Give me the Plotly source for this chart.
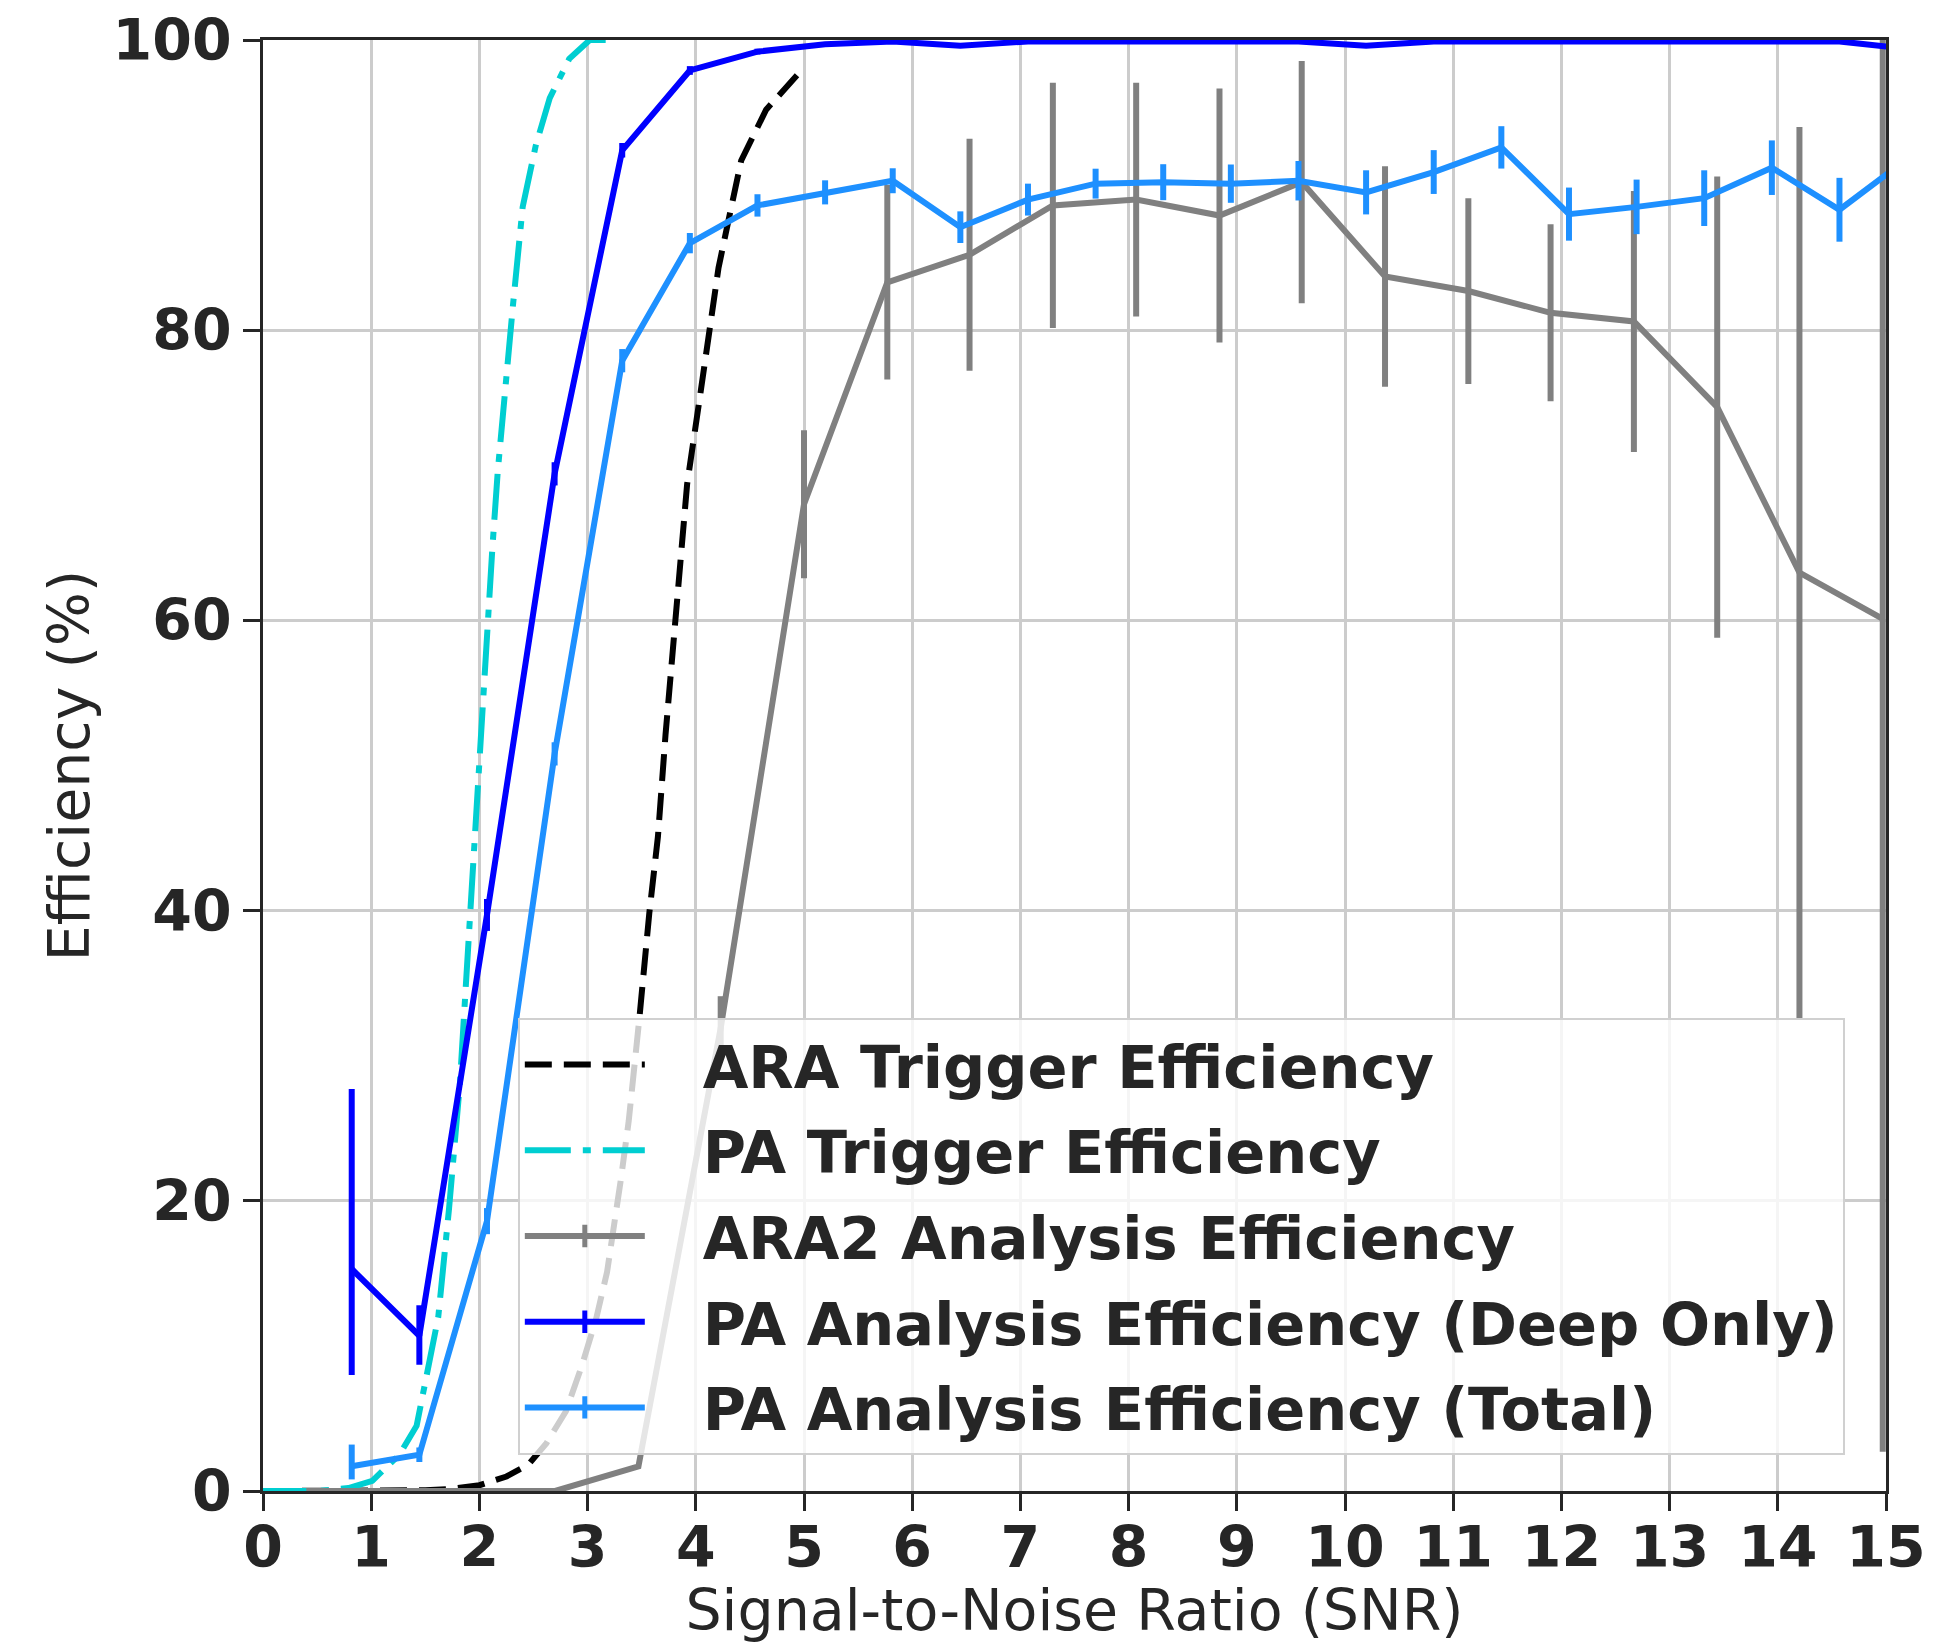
import plotly.graph_objects as go

# ---------------- data ----------------
snr_ara_trig = [0.0, 0.5, 1.0, 1.5, 1.75, 2.0, 2.25, 2.45, 2.62, 2.8, 2.95, 3.08, 3.18, 3.25, 3.31,
                3.38, 3.42, 3.48, 3.57, 3.65, 3.72, 3.80, 3.86, 3.92, 4.03, 4.13, 4.21, 4.32, 4.42, 4.65, 5.0]
eff_ara_trig = [0.0, 0.0, 0.0, 0.05, 0.15, 0.4, 1.0, 1.8, 3.3, 5.5, 8.7, 11.9, 15.1, 18.3, 21.6,
                25.5, 28.3, 32.7, 39.8, 45.1, 52.1, 59.2, 64.4, 69.4, 75.0, 79.8, 84.3, 88.2, 91.7, 95.2, 98.1]

snr_pa_trig = [0.0, 0.5, 0.79, 1.01, 1.26, 1.42, 1.62, 1.72, 1.82, 1.90, 1.94, 1.99, 2.03, 2.08,
               2.12, 2.17, 2.22, 2.25, 2.31, 2.40, 2.52, 2.65, 2.83, 3.02, 3.25]
eff_pa_trig = [0.0, 0.0, 0.2, 0.7, 2.5, 4.5, 12.0, 19.5, 28.1, 38.3, 43.2, 48.1, 54.3, 59.8,
               65.0, 70.3, 74.6, 76.4, 81.7, 88.5, 92.7, 96.0, 98.7, 100.0, 100.0]

snr_ara2 = [0.40, 1.16, 1.93, 2.70, 3.47, 4.23, 5.00, 5.77, 6.53, 7.30, 8.07, 8.84, 9.60, 10.37,
            11.14, 11.90, 12.67, 13.44, 14.20, 14.97]
eff_ara2 = [0.0, 0.0, 0.0, 0.0, 1.7, 31.9, 68.0, 83.3, 85.2, 88.6, 89.0, 87.9, 90.2, 83.7,
            82.7, 81.2, 80.6, 74.7, 63.3, 60.1]
err_ara2 = [0.0, 0.0, 0.0, 0.0, 0.0, 2.2, 5.1, 6.7, 8.0, 8.45, 8.05, 8.75, 8.35, 7.6,
            6.4, 6.1, 9.0, 15.9, 30.7, 57.4]

snr_pa = [0.82, 1.445, 2.07, 2.695, 3.32, 3.945, 4.57, 5.195, 5.82, 6.445, 7.07, 7.695, 8.32,
          8.945, 9.57, 10.195, 10.82, 11.445, 12.07, 12.695, 13.32, 13.945, 14.57, 15.195]
eff_pa_deep = [15.3, 10.7, 39.7, 70.1, 92.4, 97.9, 99.2, 99.7, 99.9, 99.6, 99.9, 99.9, 99.9,
               99.9, 99.9, 99.6, 99.9, 99.9, 99.9, 99.9, 99.9, 99.9, 99.9, 99.4]
err_up_deep = [12.4, 2.1, 1.1, 0.8, 0.5, 0.3, 0.2, 0.15, 0.1, 0.15, 0.1, 0.1, 0.1,
               0.1, 0.1, 0.15, 0.1, 0.1, 0.1, 0.1, 0.1, 0.1, 0.1, 0.2]
err_dn_deep = [7.3, 2.0, 1.1, 0.8, 0.5, 0.3, 0.2, 0.15, 0.1, 0.15, 0.1, 0.1, 0.1,
               0.1, 0.1, 0.15, 0.1, 0.1, 0.1, 0.1, 0.1, 0.1, 0.1, 0.2]
eff_pa_total = [1.7, 2.5, 18.6, 50.8, 77.9, 86.0, 88.6, 89.5, 90.3, 87.1, 89.0, 90.1, 90.2,
                90.1, 90.3, 89.5, 90.9, 92.6, 88.0, 88.5, 89.1, 91.2, 88.3, 91.8]
err_up_total = [1.5, 0.5, 0.9, 0.8, 0.8, 0.7, 0.77, 0.83, 0.86, 1.09, 1.1, 1.03, 1.24,
                1.32, 1.36, 1.52, 1.51, 1.46, 1.83, 1.88, 1.92, 1.88, 2.2, 2.0]
err_dn_total = [0.9, 0.5, 0.9, 0.8, 0.8, 0.7, 0.77, 0.83, 0.86, 1.09, 1.1, 1.03, 1.24,
                1.32, 1.36, 1.52, 1.51, 1.46, 1.83, 1.88, 1.92, 1.88, 2.2, 2.0]

x_ticks = list(range(0, 16))
y_ticks = [0, 20, 40, 60, 80, 100]

names = ["ARA Trigger Efficiency", "PA Trigger Efficiency", "ARA2 Analysis Efficiency",
         "PA Analysis Efficiency (Deep Only)", "PA Analysis Efficiency (Total)"]

# ---------------- style ----------------
C_BLACK = "#000000"
C_CYAN = "#00ced1"
C_GREY = "#808080"
C_BLUE = "#0000ff"
C_LBLUE = "#1e90ff"
TXT = "#262626"
FONT = "DejaVu Sans"
FS = 57
FS_LEG = 59
LW = 6

fig = go.Figure()

fig.add_trace(go.Scatter(x=snr_ara_trig, y=eff_ara_trig, mode="lines", showlegend=False,
                         line=dict(color=C_BLACK, width=LW, dash="27px,12px")))
fig.add_trace(go.Scatter(x=snr_pa_trig, y=eff_pa_trig, mode="lines", showlegend=False,
                         line=dict(color=C_CYAN, width=LW, dash="46px,12px,8px,12px")))
fig.add_trace(go.Scatter(x=snr_ara2, y=eff_ara2, mode="lines", showlegend=False,
                         line=dict(color=C_GREY, width=LW),
                         error_y=dict(type="data", array=err_ara2, color=C_GREY,
                                      thickness=LW, width=0)))
fig.add_trace(go.Scatter(x=snr_pa, y=eff_pa_deep, mode="lines", showlegend=False,
                         line=dict(color=C_BLUE, width=LW),
                         error_y=dict(type="data", symmetric=False, array=err_up_deep,
                                      arrayminus=err_dn_deep, color=C_BLUE,
                                      thickness=LW, width=0)))
fig.add_trace(go.Scatter(x=snr_pa, y=eff_pa_total, mode="lines", showlegend=False,
                         line=dict(color=C_LBLUE, width=LW),
                         error_y=dict(type="data", symmetric=False, array=err_up_total,
                                      arrayminus=err_dn_total, color=C_LBLUE,
                                      thickness=LW, width=0)))

# legend-only entries
leg_styles = [
    (C_BLACK, "27px,12px", False),
    (C_CYAN, "46px,12px,8px,12px", False),
    (C_GREY, "solid", True),
    (C_BLUE, "solid", True),
    (C_LBLUE, "solid", True),
]
PAD = "\u00a0\u00a0\u2009"
for i, (name, (col, dash, bar)) in enumerate(zip(names, leg_styles)):
    if bar:
        fig.add_trace(go.Scatter(x=[None], y=[None], name=PAD + name, mode="lines+markers",
                                 legendgroup="g%d" % i,
                                 line=dict(color=col, width=LW, dash=dash),
                                 marker=dict(symbol="line-ns-open", size=16,
                                             line=dict(color=col, width=5))))
    else:
        fig.add_trace(go.Scatter(x=[None], y=[None], name=PAD + name, mode="lines",
                                 legendgroup="g%d" % i,
                                 line=dict(color=col, width=LW, dash=dash)))

axis_common = dict(
    showline=True, linecolor=TXT, linewidth=3, mirror=True,
    showgrid=True, gridcolor="#cccccc", gridwidth=2.5,
    zeroline=False,
    ticks="outside", ticklen=17, tickwidth=3, tickcolor=TXT,
    tickfont=dict(family=FONT, size=FS, color=TXT, weight="bold"),
)

fig.update_xaxes(range=[0, 15], tickvals=x_ticks, ticktext=[str(v) for v in x_ticks],
                 ticklabelstandoff=-12,
                 title=dict(text="Signal-to-Noise Ratio (SNR)", standoff=8,
                            font=dict(family=FONT, size=FS, color=TXT)),
                 **axis_common)
fig.update_yaxes(range=[0, 100], tickvals=y_ticks, ticktext=[str(v) for v in y_ticks],
                 title=dict(text="Efficiency (%)", standoff=5,
                            font=dict(family=FONT, size=FS, color=TXT)),
                 **axis_common)

fig.update_layout(
    width=1957, height=1643,
    margin=dict(l=263, r=71, t=40, b=152, autoexpand=False),
    paper_bgcolor="white", plot_bgcolor="white",
    font=dict(family=FONT, size=FS, color=TXT),
    legend=dict(
        x=0.157, y=0.025, xanchor="left", yanchor="bottom",
        bgcolor="rgba(255,255,255,0.8)", bordercolor="#d0d0d0", borderwidth=2,
        font=dict(family=FONT, size=FS_LEG, color=TXT, weight="bold"),
        itemwidth=120, traceorder="grouped", tracegroupgap=6,
    ),
)

fig.write_html("out.html")
